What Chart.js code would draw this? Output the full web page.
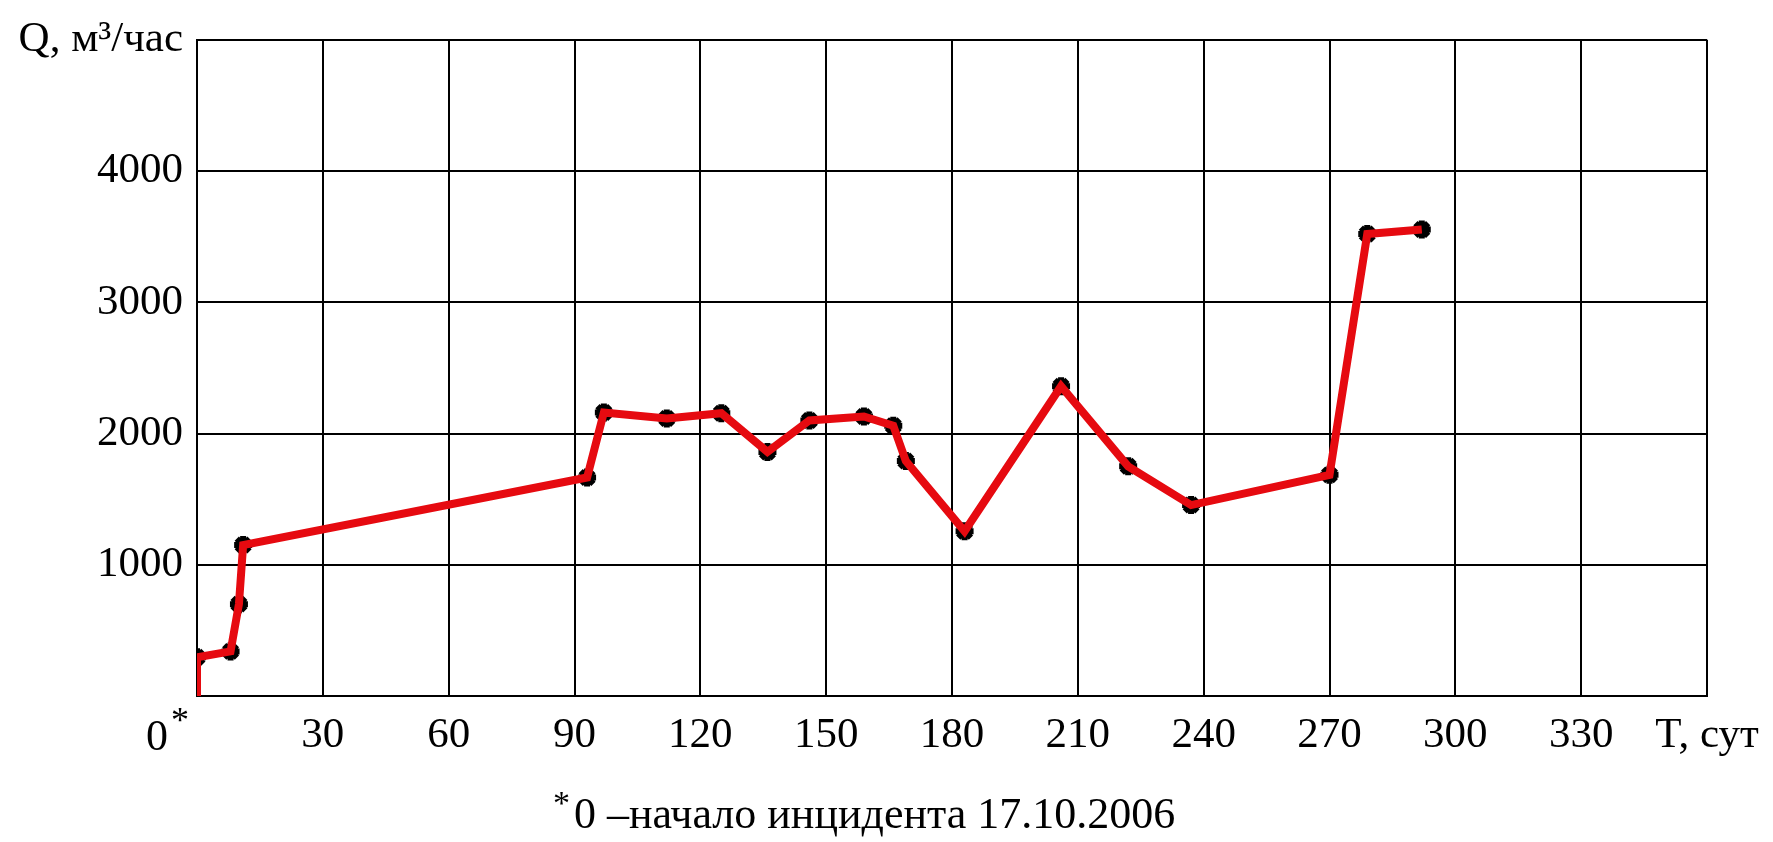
<!DOCTYPE html>
<html>
<head>
<meta charset="utf-8">
<script src="https://cdn.jsdelivr.net/npm/chart.js@4.4.1/dist/chart.umd.min.js"></script>
<style>
    html, body { margin: 0; padding: 0; background: #fff; }
    canvas { display: block; }
</style>
</head>
<body>
<canvas id="flow-chart" width="1773" height="842"></canvas>
<script>
// Days since the start of the incident (T, сут)
const days = [0, 0, 8, 10, 11, 93, 97, 112, 125, 136, 146, 159, 166, 169, 183, 206, 222, 237, 270, 279, 292];
// Flow rate Q, м3/час
const flow = [0, 295, 340, 700, 1150, 1665, 2160, 2115, 2155, 1860, 2100, 2130, 2060, 1790, 1255, 2360, 1750, 1455, 1685, 3520, 3555];

const xTickValues = [0, 30, 60, 90, 120, 150, 180, 210, 240, 270, 300, 330, 360];
const xTickLabels = ["", "30", "60", "90", "120", "150", "180", "210", "240", "270", "300", "330", "T, сут"];
const yTickValues = [0, 1000, 2000, 3000, 4000, 5000];
const yTickLabels = ["", "1000", "2000", "3000", "4000", "Q, м³/час"];

const originLabel = "0";
const footnote = "0 –начало инцидента 17.10.2006";

const serif = '"Liberation Serif", "Times New Roman", serif';
const points = days.map((d, i) => ({ x: d, y: flow[i] }));

// Draws the starred origin label and the footnote under the axis
const extraText = {
    id: "extraText",
    afterDraw(chart) {
        const ctx = chart.ctx;
        const x0 = chart.scales.x.getPixelForValue(0);
        const bottom = chart.chartArea.bottom;
        ctx.save();
        ctx.fillStyle = "#000";
        ctx.textBaseline = "alphabetic";

        ctx.font = "44px " + serif;
        ctx.textAlign = "right";
        ctx.fillText(originLabel, x0 - 29, bottom + 54);
        ctx.font = "36px " + serif;
        ctx.textAlign = "left";
        ctx.fillText("*", x0 - 26, bottom + 36);

        // footnote
        const left = 553;
        ctx.font = "34px " + serif;
        ctx.fillText("*", left, bottom + 118);
        ctx.font = "44px " + serif;
        ctx.fillText(footnote, left + 21, bottom + 132);
        ctx.restore();
    }
};

const gridStyle = {
    color: "#000",
    lineWidth: 2,
    drawTicks: false
};

new Chart(document.getElementById("flow-chart").getContext("2d"), {
    type: "scatter",
    data: {
        datasets: [
            {
                // red polyline on top
                data: points,
                showLine: true,
                borderColor: "rgb(230, 10, 16)",
                borderWidth: 8,
                pointRadius: 0,
                tension: 0,
                order: 1
            },
            {
                // black markers beneath the line
                data: points,
                showLine: false,
                pointStyle: "star",
                pointRadius: (c) => (c.raw && c.raw.y === 0 ? 0 : 9),
                pointBorderWidth: 6,
                pointBorderColor: "#000",
                pointBackgroundColor: "#000",
                order: 2
            }
        ]
    },
    options: {
        responsive: false,
        animation: false,
        layout: { padding: { top: 39, right: 66, left: 0, bottom: 0 } },
        plugins: {
            legend: { display: false },
            tooltip: { enabled: false }
        },
        scales: {
            x: {
                type: "linear",
                min: 0,
                max: 360,
                afterBuildTicks: (scale) => {
                    scale.ticks = xTickValues.map((v) => ({ value: v }));
                },
                afterFit: (scale) => { scale.height = 146; },
                grid: gridStyle,
                border: { color: "#000", width: 2 },
                ticks: {
                    autoSkip: false,
                    maxRotation: 0,
                    padding: 14,
                    color: "#000",
                    font: { family: serif, size: 43 },
                    callback: (v, i) => xTickLabels[i]
                }
            },
            y: {
                type: "linear",
                min: 0,
                max: 5000,
                afterBuildTicks: (scale) => {
                    scale.ticks = yTickValues.map((v) => ({ value: v }));
                },
                afterFit: (scale) => { scale.width = 197; },
                grid: gridStyle,
                border: { color: "#000", width: 2 },
                ticks: {
                    autoSkip: false,
                    padding: 14,
                    color: "#000",
                    font: { family: serif, size: 43 },
                    callback: (v, i) => yTickLabels[i]
                }
            }
        }
    },
    plugins: [extraText]
});
</script>
</body>
</html>
